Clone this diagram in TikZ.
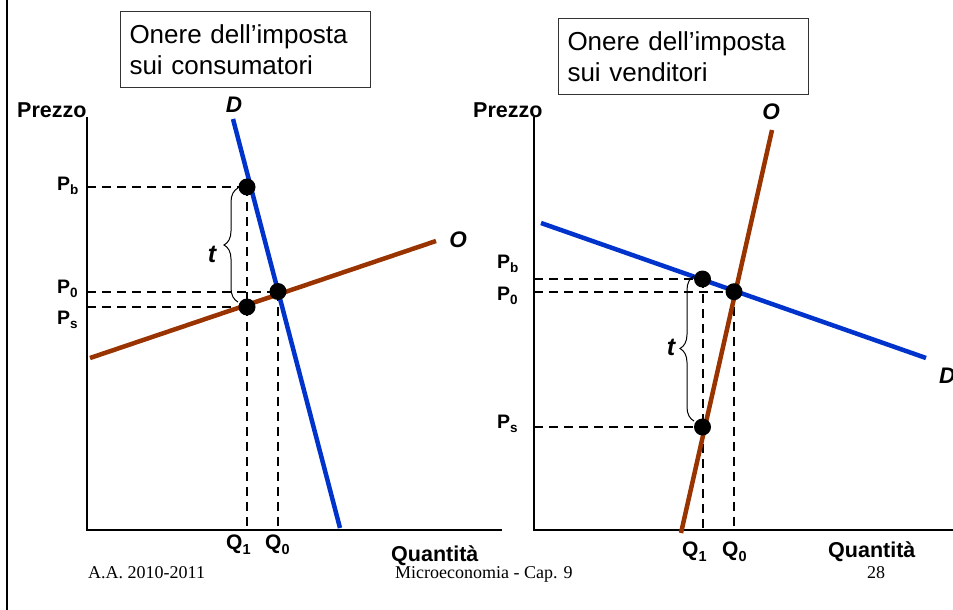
\documentclass[tikz,border=0pt]{standalone}
\usepackage{fontspec}
\setmainfont{Liberation Sans}
\newfontfamily\serifff{Liberation Serif}
\usetikzlibrary{decorations.pathreplacing}
\definecolor{demblue}{RGB}{0,51,204}
\definecolor{supbrown}{RGB}{153,51,0}
\newcommand{\fsz}[1]{\fontsize{#1}{#1}\selectfont}
\newcommand{\plbl}[2]{#1\raisebox{-4pt}{\fsz{13.5}#2}}
\newcommand{\qlbl}[2]{#1\raisebox{-5pt}{\fsz{14.5}#2}}
\begin{document}
\begin{tikzpicture}[x=1pt,y=-1pt,
  axisln/.style={line width=2.5pt},
  dsh/.style={line width=2pt, dash pattern=on 9pt off 6pt},
  demln/.style={line width=4.5pt, draw=demblue},
  supln/.style={line width=4.5pt, draw=supbrown},
  dotpt/.style={circle, fill=black, inner sep=0pt, minimum size=17pt},
  bracesty/.style={decorate, decoration={brace, amplitude=14pt}, line width=1pt},
  titlebox/.style={draw=black!80, line width=1pt, anchor=west, text width=232pt,
    inner xsep=9pt, inner ysep=0pt, minimum height=75pt, align=left,
    font=\fontsize{26}{31}\selectfont},
  axlbl/.style={font=\fsz{21.5}\bfseries, inner sep=0pt, anchor=base west},
  plab/.style={font=\fsz{19.5}\bfseries, inner sep=0pt, anchor=base west},
  qlab/.style={font=\fsz{21}\bfseries, inner sep=0pt, anchor=base west},
  curvelbl/.style={font=\fsz{22.5}\bfseries\itshape, inner sep=0pt},
  footlbl/.style={font=\fsz{18}\serifff, inner sep=0pt, anchor=base west}
]
\useasboundingbox (0,0) rectangle (953,610);
% left border
\coordinate (BL1) at (7,0);
\coordinate (BL2) at (7,610);
\draw[line width=2.5pt] (BL1) -- (BL2);

% ================= LEFT CHART =================
\node[titlebox] (boxL) at (120,49.5) {Onere dell’imposta\\sui consumatori};
\coordinate (LO) at (87,530);
\coordinate (LYtop) at (87,117);
\coordinate (LXend) at (502,530);
\coordinate (LD1) at (233,119);
\coordinate (LD2) at (340,528);
\coordinate (LS1) at (90,358);
\coordinate (LS2) at (436,241);
\coordinate (Lb) at (247,187);
\coordinate (L0) at (278,291.5);
\coordinate (Ls) at (247,307);
\coordinate (Lbr1) at (238,302);
\coordinate (Lbr2) at (238,188);

\draw[dsh] (LO|-Lb) -- (Lb);
\draw[dsh] (LO|-L0) -- (L0);
\draw[dsh] (LO|-Ls) -- (Ls);
\draw[dsh] (Lb) -- (Lb|-LO);
\draw[dsh] (L0) -- (L0|-LO);
\draw[axisln] (LYtop) -- (LO) -- (LXend);
\draw[supln] (LS1) -- (LS2);
\draw[demln] (LD1) -- (LD2);
\draw[bracesty] (Lbr1) -- (Lbr2);
\node[dotpt] (dLb) at (Lb) {};
\node[dotpt] (dL0) at (L0) {};
\node[dotpt] (dLs) at (Ls) {};

\node[axlbl] (prL) at (17,117) {Prezzo};
\node[curvelbl, anchor=base] (DL) at (234,112) {D};
\node[curvelbl, anchor=base] (OL) at (458,247) {O};
\node[curvelbl, anchor=base, font=\fsz{25}\bfseries\itshape] (tL) at (212,262) {t};
\node[plab] (PbL) at (57,190) {\plbl{P}{b}};
\node[plab] (P0L) at (57,293) {\plbl{P}{0}};
\node[plab] (PsL) at (57,324) {\plbl{P}{s}};
\node[qlab] (Q1L) at (226,549) {\qlbl{Q}{1}};
\node[qlab] (Q0L) at (265,549) {\qlbl{Q}{0}};
\node[axlbl] (quL) at (391,561) {Quantità};

% ================= RIGHT CHART =================
\node[titlebox] (boxR) at (558,56.5) {Onere dell’imposta\\sui venditori};
\coordinate (RO) at (534,530);
\coordinate (RYtop) at (534,117);
\coordinate (RXend) at (953,530);
\coordinate (RD1) at (541,223);
\coordinate (RD2) at (926,358);
\coordinate (RS1) at (681,533);
\coordinate (RS2) at (772,130);
\coordinate (Rb) at (702.5,279);
\coordinate (R0) at (734,291.7);
\coordinate (Rs) at (702.5,427);
\coordinate (Rbr1) at (694,421);
\coordinate (Rbr2) at (694,276);

\draw[dsh] (RO|-Rb) -- (Rb);
\draw[dsh] (RO|-R0) -- (R0);
\draw[dsh] (RO|-Rs) -- (Rs);
\draw[dsh] (Rb) -- (Rb|-RO);
\draw[dsh] (R0) -- (R0|-RO);
\draw[axisln] (RYtop) -- (RO) -- (RXend);
\draw[demln] (RD1) -- (RD2);
\draw[supln] (RS1) -- (RS2);
\draw[bracesty] (Rbr1) -- (Rbr2);
\node[dotpt] (dRb) at (Rb) {};
\node[dotpt] (dR0) at (R0) {};
\node[dotpt] (dRs) at (Rs) {};

\node[axlbl] (prR) at (473,117) {Prezzo};
\node[curvelbl, anchor=base] (OR) at (771,119) {O};
\node[curvelbl, anchor=base west] (DR) at (939,383) {D};
\node[curvelbl, anchor=base, font=\fsz{25}\bfseries\itshape] (tR) at (671,355) {t};
\node[plab] (PbR) at (497,268) {\plbl{P}{b}};
\node[plab] (P0R) at (497,300) {\plbl{P}{0}};
\node[plab] (PsR) at (497,428) {\plbl{P}{s}};
\node[qlab] (Q1R) at (682,556) {\qlbl{Q}{1}};
\node[qlab] (Q0R) at (722,556) {\qlbl{Q}{0}};
\node[axlbl] (quR) at (828,557) {Quantità};

% ================= FOOTER =================
\node[footlbl] (f1) at (88,578) {A.A. 2010-2011};
\node[footlbl] (f2) at (395,578) {Microeconomia - Cap. 9};
\node[footlbl] (f3) at (867,578) {28};
\end{tikzpicture}
\end{document}
